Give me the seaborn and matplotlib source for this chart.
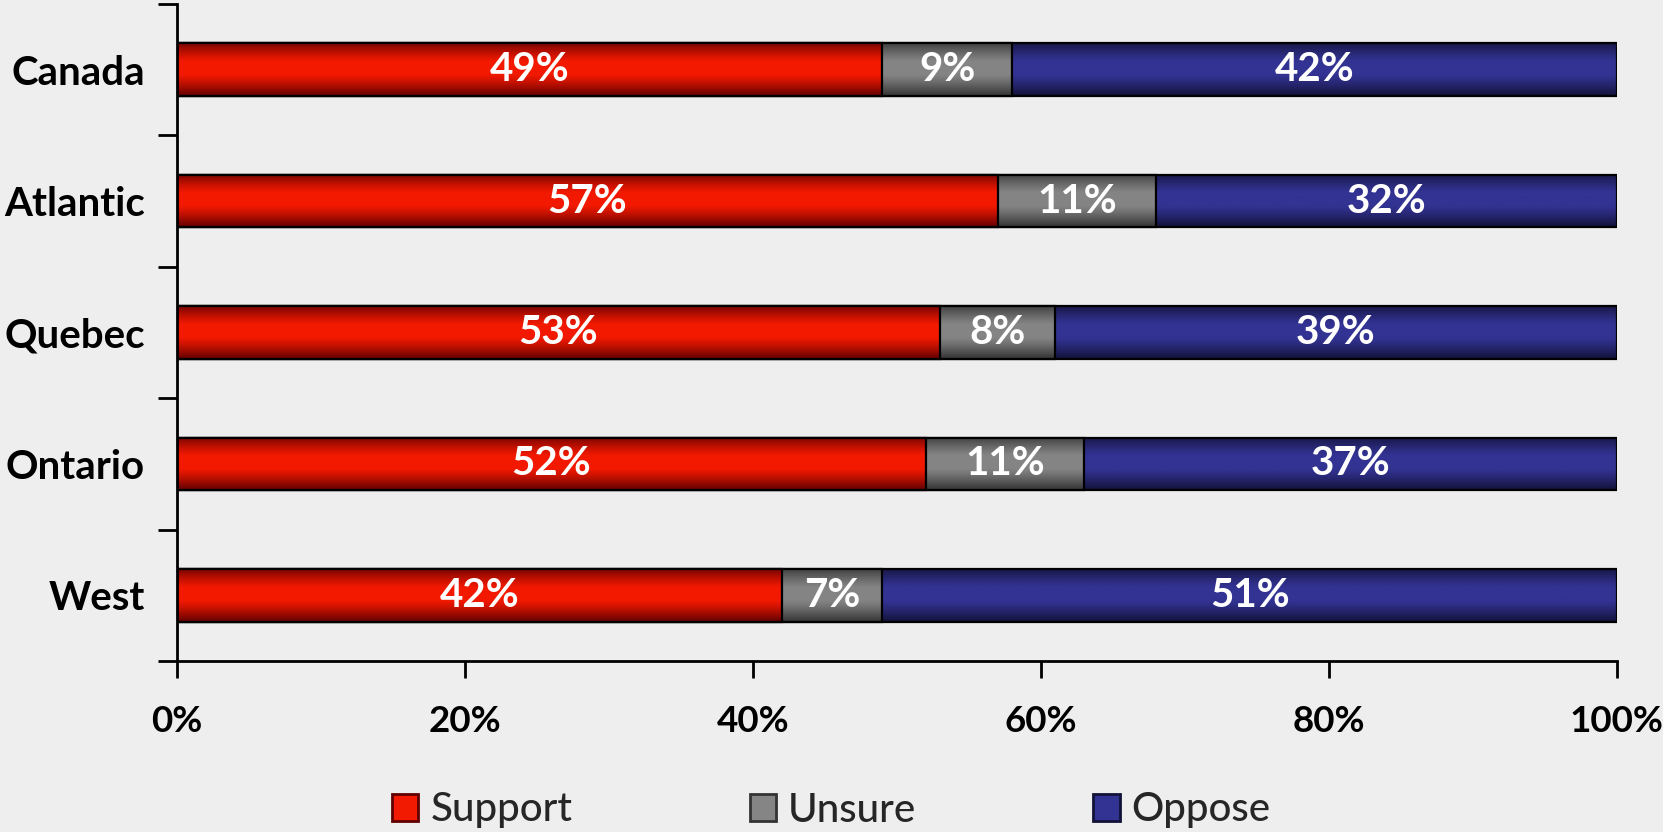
import numpy as np
import pandas as pd
import matplotlib
matplotlib.use('Agg')
import matplotlib.pyplot as plt
import seaborn as sns
from matplotlib.patches import Patch
from matplotlib.ticker import FixedLocator, PercentFormatter

# ---- data ----
regions = ["Canada", "Atlantic", "Quebec", "Ontario", "West"]
support = [49, 57, 53, 52, 42]
unsure = [9, 11, 8, 11, 7]
oppose = [42, 32, 39, 37, 51]
series_names = ["Support", "Unsure", "Oppose"]
xticks = [0, 20, 40, 60, 80, 100]

# ---- style ----
sns.set_theme(style='white')
plt.rcParams['font.family'] = ['Lato', 'DejaVu Sans']
bg = '#eeeeee'
bright = {"Support": (0.95, 0.10, 0.0), "Unsure": (0.52, 0.52, 0.52), "Oppose": (0.20, 0.20, 0.58)}
dark = {"Support": (0.38, 0.0, 0.0), "Unsure": (0.20, 0.20, 0.20), "Oppose": (0.07, 0.07, 0.22)}
FS = 29

fig = plt.figure(figsize=(16.63, 8.32), dpi=100, facecolor=bg)
ax = fig.add_axes([0.1063, 0.2055, 0.9722 - 0.1063, 0.9952 - 0.2055])
ax.set_facecolor(bg)

df = pd.DataFrame({"region": regions, "Support": support, "Unsure": unsure, "Oppose": oppose})
df["c1"] = df["Support"]
df["c2"] = df["Support"] + df["Unsure"]
df["c3"] = df["c2"] + df["Oppose"]

def gradient(name, n=80):
    t = np.linspace(0, 1, n)
    d = np.clip((np.abs(t - 0.47) - 0.12) / 0.41, 0, 1)
    w = 1 - d ** 1.2
    b = np.array(bright[name]); dk = np.array(dark[name])
    rgb = dk[None, :] + (b - dk)[None, :] * w[:, None]
    return rgb[:, None, :]

layers = [("c3", "Oppose"), ("c2", "Unsure"), ("c1", "Support")]
for k, (col, name) in enumerate(layers):
    n0 = len(ax.patches)
    sns.barplot(data=df, x=col, y="region", orient="h", width=0.4, color=bright[name],
                saturation=1, errorbar=None, ax=ax)
    for p in ax.patches[n0:]:
        x0, y0, w, h = p.get_x(), p.get_y(), p.get_width(), p.get_height()
        img = ax.imshow(gradient(name), extent=(x0, x0 + w, y0 + h, y0), origin='upper',
                        aspect='auto', interpolation='bilinear', zorder=2 + k * 0.1)
        img.set_clip_path(p)
        p.set_facecolor('none')
        p.set_edgecolor('black')
        p.set_linewidth(1.6)
        p.set_zorder(2 + k * 0.1 + 0.05)

# data labels
mids = {"Support": df["Support"] / 2,
        "Unsure": df["Support"] + df["Unsure"] / 2,
        "Oppose": df["c2"] + df["Oppose"] / 2}
for name in series_names:
    for i, (m, v) in enumerate(zip(mids[name], df[name])):
        ax.text(m, i, f"{v}%", ha='center', va='center', color='white',
                fontsize=FS, fontweight='bold', zorder=5)

ax.set_xlim(0, 100)
ax.set_ylim(4.5, -0.5)
ax.set_xlabel("")
ax.set_ylabel("")
ax.set_xticks(xticks)
ax.xaxis.set_major_formatter(PercentFormatter(xmax=100, decimals=0))
ax.yaxis.set_minor_locator(FixedLocator(np.arange(-0.5, 5.0, 1.0)))
ax.tick_params(axis='x', which='major', bottom=True, length=12, width=2, direction='out',
               pad=20, labelsize=26.5, colors='black')
ax.tick_params(axis='y', which='major', left=True, length=0, pad=23, labelsize=FS, colors='black')
ax.tick_params(axis='y', which='minor', left=True, length=14, width=2, direction='out', colors='black')
for lab in ax.get_xticklabels() + ax.get_yticklabels():
    lab.set_fontweight('bold')
for s in ['top', 'right']:
    ax.spines[s].set_visible(False)
for s in ['left', 'bottom']:
    ax.spines[s].set_color('black')
    ax.spines[s].set_linewidth(2)

handles = [Patch(facecolor=bright[n], edgecolor=dark[n], linewidth=2) for n in series_names]
fig.legend(handles, series_names, loc='center', bbox_to_anchor=(0.5, 1 - 810 / 832), ncol=3,
           frameon=False, handlelength=0.65, handleheight=0.65,
           handletextpad=0.3, columnspacing=4.4,
           prop={'size': FS, 'weight': 'medium'})

fig.savefig("out.png", dpi=100, facecolor=bg)
